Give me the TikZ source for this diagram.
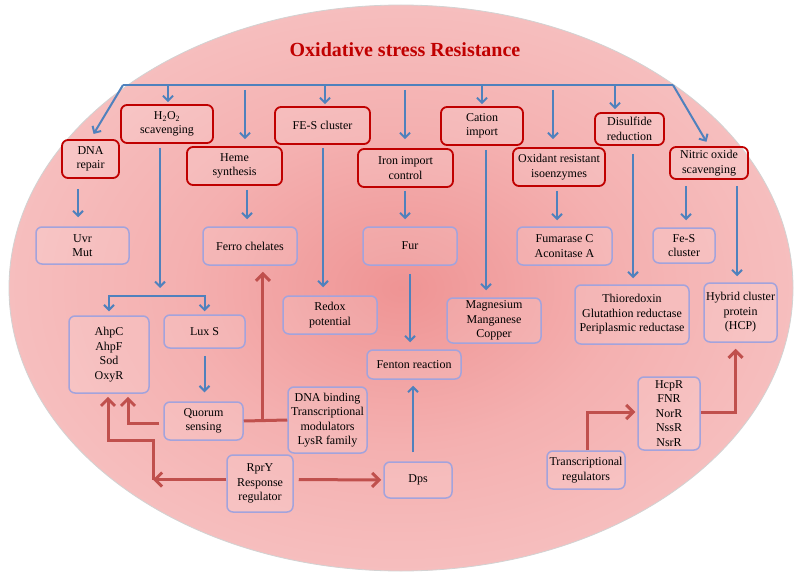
\documentclass[tikz,border=0pt]{standalone}
\usepackage{fontspec}
\setmainfont{Liberation Serif}
\usetikzlibrary{arrows.meta,calc}
\definecolor{cBlue}{HTML}{4F81BD}
\definecolor{cRedLine}{HTML}{C0504D}
\definecolor{cRedBox}{HTML}{C00000}
\definecolor{cLav}{HTML}{A3A3DC}
\definecolor{cTitle}{HTML}{C00000}
\definecolor{shA}{RGB}{239,148,148}
\definecolor{shB}{RGB}{244,176,176}
\definecolor{shC}{RGB}{248,200,200}
\definecolor{shD}{RGB}{250,214,214}
\definecolor{shE}{RGB}{253,238,238}
\pgfdeclareradialshading{ovalsh}{\pgfpoint{0bp}{0bp}}{color(0bp)=(shA); color(14bp)=(shB); color(33bp)=(shC); color(46bp)=(shD); color(50bp)=(shE)}
\begin{document}
\begin{tikzpicture}[x=1pt,y=-1pt,
  every node/.style={font=\fontsize{12}{14.5}\selectfont},
  sz/.style 2 args={minimum width=#1pt,minimum height=#2pt},
  boxbase/.style={rounded corners=6pt, fill=white, fill opacity=0.12, text opacity=1, draw opacity=1, align=center, inner sep=1pt},
  rbox/.style={boxbase, draw=cRedBox, line width=1.8pt},
  bbox/.style={boxbase, draw=cLav, line width=1.5pt},
  bline/.style={draw=cBlue, line width=2pt},
  barr/.style={draw=cBlue, line width=2pt, -{Straight Barb[length=5pt,width=10pt]}},
  rline/.style={draw=cRedLine, line width=3pt},
  rarr/.style={draw=cRedLine, line width=3pt, -{Straight Barb[length=7pt,width=14pt]}}
]
\useasboundingbox (0,0) rectangle (800,575);
\shade[shading=ovalsh, draw=gray!35, line width=0.8pt] (401,288) ellipse [x radius=392pt, y radius=283pt];

\node[font=\fontsize{20}{24}\selectfont\bfseries, text=cTitle] (title) at (405,50) {Oxidative stress Resistance};

% top tier
\node[rbox, sz={57}{38}] (dna) at (90.5,159) {DNA\\repair};
\node[rbox, sz={92}{38}] (h2o2) at (167,124) {H\textsubscript{2}O\textsubscript{2}\\scavenging};
\node[rbox, sz={95}{38}] (heme) at (234.5,166) {Heme\\synthesis};
\node[rbox, sz={95}{37}] (fes) at (322.5,125.5) {FE-S cluster};
\node[rbox, sz={95}{38}] (iron) at (405.5,168) {Iron import\\control};
\node[rbox, sz={82}{38}] (cation) at (482,126) {Cation\\import};
\node[rbox, sz={92}{38}] (oxid) at (559,167) {Oxidant resistant\\isoenzymes};
\node[rbox, sz={69}{32}] (disulf) at (629.5,129) {Disulfide\\reduction};
\node[rbox, sz={78}{32}] (nitric) at (709,163) {Nitric oxide\\scavenging};

% second tier
\node[bbox, sz={93}{37}] (uvr) at (82.5,245.5) {Uvr\\Mut};
\node[bbox, sz={94}{38}] (ferro) at (250,246) {Ferro chelates};
\node[bbox, sz={94}{38}] (fur) at (410,246) {Fur};
\node[bbox, sz={95}{38}] (fum) at (564.5,246) {Fumarase C\\Aconitase A};
\node[bbox, sz={62}{35}] (fes2) at (684,245.5) {Fe-S\\cluster};
\node[bbox, sz={80}{77}] (ahp) at (109,354.5) {AhpC\\AhpF\\Sod\\OxyR};
\node[bbox, sz={81}{33}] (lux) at (204.5,331.5) {Lux S};
\node[bbox, sz={94}{38}] (redox) at (330,315) {Redox\\potential};
\node[bbox, sz={94}{45}] (mag) at (494,320.5) {Magnesium\\Manganese\\Copper};
\node[bbox, sz={114}{59}] (thio) at (632,314.5) {Thioredoxin\\Glutathion reductase\\Periplasmic reductase};
\node[bbox, sz={73}{59}] (hcp) at (740.5,312.5) {Hybrid cluster\\protein\\(HCP)};
\node[bbox, sz={94}{29}] (fenton) at (414,364.5) {Fenton reaction};
\node[bbox, sz={79}{38}] (quorum) at (203.5,421) {Quorum\\sensing};
\node[bbox, sz={79}{66}] (dnab) at (327.5,420) {DNA binding\\Transcriptional\\modulators\\LysR family};
\node[bbox, sz={66}{57}] (rpry) at (260,483.5) {RprY\\Response\\regulator};
\node[bbox, sz={68}{36}] (dps) at (418,480) {Dps};
\node[bbox, sz={78}{38}] (treg) at (586,470) {Transcriptional\\regulators};
\node[bbox, sz={62}{73}] (hcpr) at (669,413.5) {HcpR\\FNR\\NorR\\NssR\\NsrR};

% top bar
\coordinate (bL) at (123,85);
\coordinate (bR) at (673,85);
\draw[bline] (bL) -- (bR);
\coordinate (bh2) at (168,85);
\coordinate (bhe) at (245,85);
\coordinate (bfe) at (325,85);
\coordinate (bir) at (405,85);
\coordinate (bca) at (482,85);
\coordinate (box) at (553,85);
\coordinate (bdi) at (615,85);
\draw[barr, shorten >=6pt] (bL) -- (dna.north);
\draw[barr, shorten >=2pt] (bh2) -- (bh2 |- h2o2.north);
\draw[barr, shorten <=5pt, shorten >=7pt] (bhe) -- (bhe |- heme.north);
\draw[barr, shorten >=2pt] (bfe) -- (bfe |- fes.north);
\draw[barr, shorten <=5pt, shorten >=9pt] (bir) -- (bir |- iron.north);
\draw[barr, shorten >=2pt] (bca) -- (bca |- cation.north);
\draw[barr, shorten <=5pt, shorten >=8pt] (box) -- (box |- oxid.north);
\draw[barr, shorten >=3pt] (bdi) -- (bdi |- disulf.north);
\draw[barr, shorten >=5pt] (bR) -- (nitric.north);

% second tier arrows
\draw[barr, shorten <=10pt, shorten >=9pt] ([xshift=-12.5pt]dna.south) -- ([xshift=-4.5pt]uvr.north);
\coordinate (hsplit) at (160,288);
\draw[barr, shorten <=4pt] ([xshift=-7pt]h2o2.south) -- (hsplit);
\draw[draw=cBlue, line width=2pt, {Straight Barb[length=5pt,width=10pt]}-{Straight Barb[length=5pt,width=10pt]}, shorten <=4pt, shorten >=3pt] (ahp.north) -- ++(0,-19) -| (lux.north);
\draw[barr, shorten <=4pt, shorten >=7pt] ([xshift=12.5pt]heme.south) -- ([xshift=-3pt]ferro.north);
\draw[barr, shorten <=3pt, shorten >=8pt] ([xshift=0.5pt]fes.south) -- ([xshift=-7pt]redox.north);
\draw[barr, shorten <=3pt, shorten >=7pt] ([xshift=-0.5pt]iron.south) -- ([xshift=-5pt]fur.north);
\draw[barr, shorten <=8pt, shorten >=7pt] (fur.south) -- ([xshift=-4pt]fenton.north);
\draw[barr, shorten <=4pt, shorten >=7pt] ([xshift=4pt]cation.south) -- ([xshift=-8pt]mag.north);
\draw[barr, shorten <=4pt, shorten >=6pt] ([xshift=-2pt]oxid.south) -- ([xshift=-7.5pt]fum.north);
\draw[barr, shorten <=8pt, shorten >=6pt] ([xshift=3.5pt]disulf.south) -- ([xshift=1pt]thio.north);
\draw[barr, shorten <=6pt, shorten >=7pt] ([xshift=-23pt]nitric.south) -- ([xshift=2pt]fes2.north);
\draw[barr, shorten <=6pt, shorten >=6pt] ([xshift=28pt]nitric.south) -- ([xshift=-3.5pt]hcp.north);
\draw[barr, shorten <=7pt, shorten >=9pt] (lux.south) -- ([xshift=1pt]quorum.north);
\draw[barr, shorten <=9pt, shorten >=6pt] ([xshift=-5pt]dps.north) -- ([xshift=-1pt]fenton.south);

% red connectors
\draw[rarr, shorten <=4pt, shorten >=3pt] ([yshift=-2pt]quorum.west) -| ($(ahp.south)+(19,0)$);
\coordinate (rc) at (153,479.5);
\draw[rarr] ([yshift=4pt]rpry.west) -- (rc);
\draw[rarr, shorten >=3pt] (rc) |- ($(ahp.south)+(-1,47)$) -- ($(ahp.south)+(-1,0)$);
\draw[rarr, shorten <=5pt, shorten >=2pt] ([yshift=4pt]rpry.east) -- (dps.west);
\draw[rline] (quorum.east) -- (dnab.west);
\coordinate (qj) at ($(quorum.east)!0.44!(dnab.west)$);
\draw[rarr, shorten >=6pt] (qj) -- (qj |- ferro.south);
\draw[rarr, shorten >=2pt] ([xshift=1pt]treg.north) |- ([yshift=1.5pt]hcpr.west);
\draw[rarr, shorten >=6pt] ([yshift=1pt]hcpr.east) -| ($(hcp.south)+(-5,0)$);
\end{tikzpicture}
\end{document}
